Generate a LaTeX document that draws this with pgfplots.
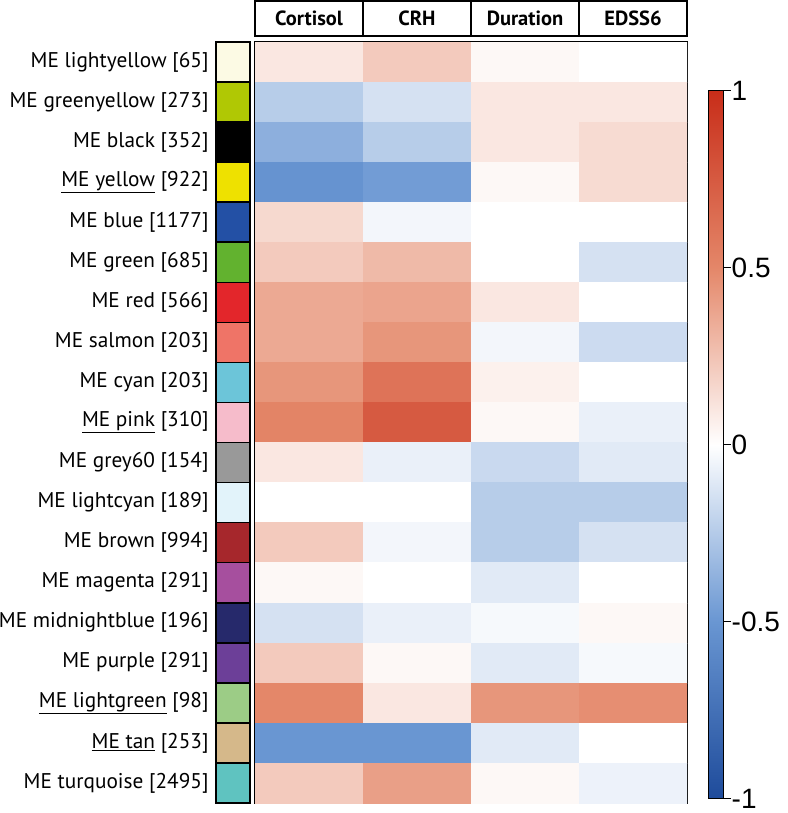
\documentclass[border=0pt]{standalone}
\usepackage{pgfplots}
\pgfplotsset{compat=1.18}
\usepackage{pgfplotstable}
\usepackage{fontspec}
\setmainfont{PT Sans}
\newfontfamily\arialfont{Liberation Sans}

\pgfplotstableread{
x y c
0 0 0.10
1 0 0.22
2 0 0.03
3 0 0.00
0 1 -0.24
1 1 -0.14
2 1 0.10
3 1 0.10
0 2 -0.38
1 2 -0.24
2 2 0.10
3 2 0.15
0 3 -0.52
1 3 -0.47
2 3 0.03
3 3 0.15
0 4 0.16
1 4 -0.04
2 4 0.00
3 4 0.00
0 5 0.22
1 5 0.29
2 5 0.00
3 5 -0.14
0 6 0.36
1 6 0.38
2 6 0.10
3 6 0.00
0 7 0.36
1 7 0.44
2 7 -0.04
3 7 -0.17
0 8 0.44
1 8 0.61
2 8 0.06
3 8 0.00
0 9 0.52
1 9 0.75
2 9 0.03
3 9 -0.07
0 10 0.10
1 10 -0.07
2 10 -0.18
3 10 -0.10
0 11 0.00
1 11 0.00
2 11 -0.24
3 11 -0.24
0 12 0.22
1 12 -0.04
2 12 -0.24
3 12 -0.14
0 13 0.03
1 13 0.00
2 13 -0.10
3 13 0.00
0 14 -0.14
1 14 -0.07
2 14 -0.03
3 14 0.03
0 15 0.22
1 15 0.03
2 15 -0.10
3 15 -0.03
0 16 0.50
1 16 0.10
2 16 0.44
3 16 0.47
0 17 -0.50
1 17 -0.50
2 17 -0.10
3 17 0.00
0 18 0.22
1 18 0.40
2 18 0.03
3 18 -0.06
}\heat

\definecolor{m0}{RGB}{252,250,228}
\definecolor{m1}{RGB}{176,200,4}
\definecolor{m2}{RGB}{0,0,0}
\definecolor{m3}{RGB}{238,225,0}
\definecolor{m4}{RGB}{35,80,165}
\definecolor{m5}{RGB}{98,178,47}
\definecolor{m6}{RGB}{227,38,43}
\definecolor{m7}{RGB}{239,116,103}
\definecolor{m8}{RGB}{108,197,217}
\definecolor{m9}{RGB}{246,188,203}
\definecolor{m10}{RGB}{153,153,153}
\definecolor{m11}{RGB}{226,243,250}
\definecolor{m12}{RGB}{166,39,44}
\definecolor{m13}{RGB}{166,79,158}
\definecolor{m14}{RGB}{38,41,107}
\definecolor{m15}{RGB}{108,63,152}
\definecolor{m16}{RGB}{156,204,134}
\definecolor{m17}{RGB}{213,184,138}
\definecolor{m18}{RGB}{95,195,192}

\begin{document}
\begin{tikzpicture}
\path[use as bounding box] (0pt,0pt) rectangle (787pt,813pt);

% swatches + row labels
\begin{axis}[
  at={(216pt,10pt)}, anchor=south west, scale only axis,
  width=34pt, height=761pt,
  xmin=0, xmax=1, ymin=-0.5, ymax=18.5, y dir=reverse,
  axis line style={draw=none},
  xtick=\empty,
  ytick={0,1,...,18},
  yticklabels={
    ME lightyellow [65],
    ME greenyellow [273],
    ME black [352],
    \underline{ME yellow} [922],
    ME blue [1177],
    ME green [685],
    ME red [566],
    ME salmon [203],
    ME cyan [203],
    \underline{ME pink} [310],
    ME grey60 [154],
    ME lightcyan [189],
    ME brown [994],
    ME magenta [291],
    ME midnightblue [196],
    ME purple [291],
    \underline{ME lightgreen} [98],
    \underline{ME tan} [253],
    ME turquoise [2495]},
  ytick style={draw=none},
  yticklabel style={font=\fontsize{21.3}{21.3}\selectfont, inner sep=0pt, anchor=east, xshift=-3pt},
  xbar, bar width=1, bar shift=0pt,
  every axis plot/.append style={draw=black, line width=1.6pt},
  clip=false,
]
\addplot[fill=m0] coordinates {(1,0)};
\addplot[fill=m1] coordinates {(1,1)};
\addplot[fill=m2] coordinates {(1,2)};
\addplot[fill=m3] coordinates {(1,3)};
\addplot[fill=m4] coordinates {(1,4)};
\addplot[fill=m5] coordinates {(1,5)};
\addplot[fill=m6] coordinates {(1,6)};
\addplot[fill=m7] coordinates {(1,7)};
\addplot[fill=m8] coordinates {(1,8)};
\addplot[fill=m9] coordinates {(1,9)};
\addplot[fill=m10] coordinates {(1,10)};
\addplot[fill=m11] coordinates {(1,11)};
\addplot[fill=m12] coordinates {(1,12)};
\addplot[fill=m13] coordinates {(1,13)};
\addplot[fill=m14] coordinates {(1,14)};
\addplot[fill=m15] coordinates {(1,15)};
\addplot[fill=m16] coordinates {(1,16)};
\addplot[fill=m17] coordinates {(1,17)};
\addplot[fill=m18] coordinates {(1,18)};
\end{axis}

% heatmap
\begin{axis}[
  at={(255pt,10pt)}, anchor=south west, scale only axis,
  width=432pt, height=761pt,
  xmin=-0.5, xmax=3.5, ymin=-0.5, ymax=18.5, y dir=reverse,
  axis line style={line width=1.5pt},
  ytick=\empty,
  xtick={0,1,2,3},
  xticklabels={Cortisol,CRH,Duration,EDSS6},
  xticklabel pos=right,
  xtick style={draw=none},
  xticklabel style={draw=black, line width=1.8pt, minimum width=108pt,
    minimum height=35pt, inner sep=0pt, anchor=south, yshift=5pt,
    font=\bfseries\fontsize{20.5}{20.5}\selectfont},
  colormap={rb}{
    rgb255(-1)=(30,75,155)
    rgb255(-0.5)=(105,150,210)
    rgb255(0)=(255,255,255)
    rgb255(0.5)=(228,135,105)
    rgb255(1)=(200,45,25)},
  point meta min=-1, point meta max=1,
  colorbar right,
  colorbar style={
    at={(parent axis.south east)}, anchor=south west,
    xshift=13pt, yshift=4pt,
    scale only axis, width=15pt, height=708pt,
    axis line style={line width=1pt},
    ytick={-1,-0.5,0,0.5,1},
    yticklabels={-1,-0.5,0,0.5,1},
    yticklabel pos=right,
    ytick pos=right,
    tick align=outside,
    major tick length=7pt,
    ytick style={black, line width=1pt},
    yticklabel style={font=\arialfont\fontsize{28}{28}\selectfont, inner sep=1pt},
  },
]
\addplot[matrix plot*, mesh/cols=4, point meta=explicit] table[x=x, y=y, meta=c] {\heat};
\end{axis}
\end{tikzpicture}
\end{document}
